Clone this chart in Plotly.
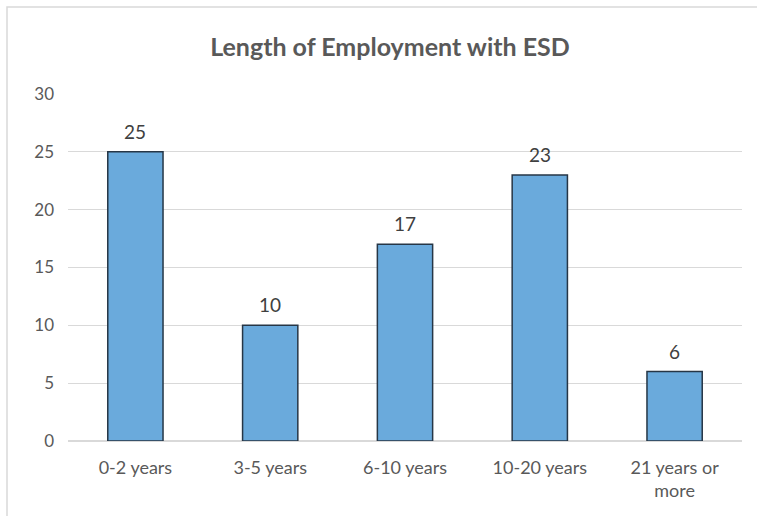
import plotly.graph_objects as go

categories = ["0-2 years", "3-5 years", "6-10 years", "10-20 years", "21 years or<br>more"]
counts = [25, 10, 17, 23, 6]
y_ticks = [0, 5, 10, 15, 20, 25, 30]

W, H = 757, 516
L, R, T, B = 68, 15, 94, 75

fig = go.Figure(
    go.Bar(
        x=categories,
        y=counts,
        marker=dict(color="#6aaadc", line=dict(color="#263646", width=1.5)),
        width=0.41,
        hoverinfo="x+y",
    )
)

# value labels above each bar
for cat, v in zip(categories, counts):
    fig.add_annotation(
        x=cat, y=v, text=str(v), showarrow=False,
        yanchor="bottom", yshift=7,
        font=dict(size=19, color="#404040"),
    )

pw = W - L - R
ph = H - T - B
# light frame around the chart area
fig.add_shape(
    type="rect", xref="paper", yref="paper",
    x0=(7 - L) / pw, x1=(W + 5 - L) / pw,
    y0=(H - B - (H + 5)) / ph, y1=(H - B - 7) / ph,
    line=dict(color="#d9d9d9", width=1.5), fillcolor="rgba(0,0,0,0)", layer="below",
)

fig.update_layout(
    width=W, height=H,
    margin=dict(l=L, r=R, t=T, b=B),
    paper_bgcolor="white", plot_bgcolor="white",
    font=dict(family="Lato, Open Sans, sans-serif", color="#595959", size=17),
    title=dict(
        text="<b>Length of Employment with ESD</b>",
        x=(390 - L) / pw, xanchor="center", xref="paper",
        y=1 - 47 / H, yanchor="middle",
        font=dict(size=25, color="#595959"),
    ),
    showlegend=False,
    bargap=0.59,
    xaxis=dict(
        showline=False, ticks="", ticklabelstandoff=14,
        tickfont=dict(size=18, color="#595959"),
    ),
    yaxis=dict(
        range=[0, 30], tickvals=y_ticks, showgrid=True, gridcolor="#d9d9d9",
        gridwidth=1, zeroline=True, zerolinecolor="#d9d9d9", zerolinewidth=1.5,
        ticks="", ticklabelstandoff=13, tickfont=dict(size=17, color="#595959"),
    ),
)

fig.write_html("out.html")
